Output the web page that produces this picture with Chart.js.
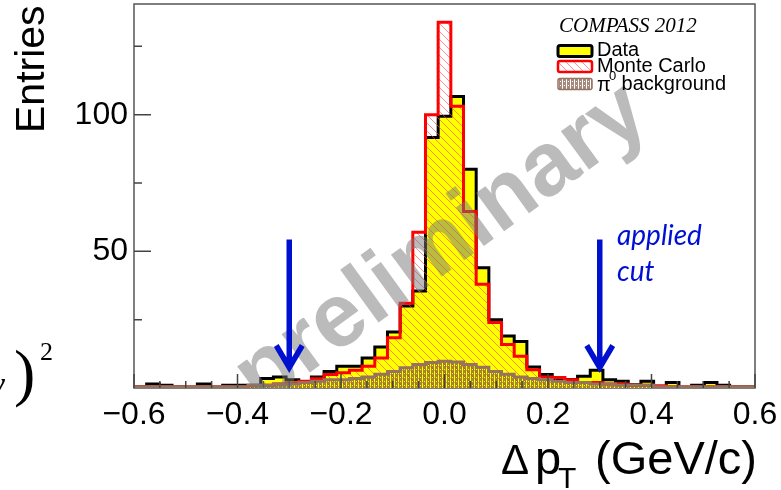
<!DOCTYPE html>
<html>
<head>
<meta charset="utf-8">
<script src="https://cdn.jsdelivr.net/npm/chart.js@4.4.0/dist/chart.umd.min.js"></script>
<style>
  body { margin: 0; background: #fff; }
  #wrap { width: 781px; height: 490px; position: relative; }
</style>
</head>
<body>
<div id="wrap"><canvas id="dpt"></canvas></div>
<script>
// Histogram binning: 49 bins between -0.6 and 0.6 GeV/c
const xMin = -0.6
const xMax = 0.6
const nBins = 49

// Entries per bin
const dataCounts = [
  0.5, 1.5, 1, 0.5, 0, 1.5, 0, 1, 1, 1,
  3.5, 4, 3, 2.4, 4, 6, 8, 8, 11, 15,
  20.5, 30, 35.5, 91.7, 99.4, 106.7, 80, 44, 25, 19,
  17, 7.7, 4.9, 3.1, 3.1, 4.3, 6.5, 3, 2.5, 1.2,
  2.5, 0.5, 2, 0, 1, 2, 1, 0.5, 0.5
]
const mcCounts = [
  0.5, 0.5, 0.5, 0.5, 0.5, 0.5, 0.5, 0.5, 0.5, 0.8,
  1, 1.5, 1.8, 2.5, 3.4, 4.9, 5.6, 6.5, 8, 11,
  18.4, 31, 57, 100, 133.8, 103.1, 64.6, 38, 24, 15.9,
  11.6, 6.7, 4, 3.8, 3, 2, 2, 1.5, 1.5, 1,
  1, 0.8, 0.5, 0.5, 0.5, 0.5, 0.5, 0.5, 0.5
]
const pi0Counts = [
  0.5, 0.5, 0.5, 0.5, 0.5, 0.5, 0.5, 0.5, 0.5, 1,
  1, 1.5, 1.5, 2, 2.5, 3, 3, 3.5, 4, 5,
  6, 7.4, 8.6, 9.3, 9.8, 9.5, 8.6, 7.6, 6, 5,
  4, 3.5, 3, 2.5, 2, 2, 1.5, 1.5, 1, 1,
  1, 0.5, 0.5, 0.5, 0.5, 0.5, 0.5, 0.5, 0.5
]

// Axes
const xTicks = [-0.6, -0.4, -0.2, 0, 0.2, 0.4, 0.6]
const xTickLabels = ['\u22120.6', '\u22120.4', '\u22120.2', '0.0', '0.2', '0.4', '0.6']
const yTicks = [50, 100]
const yTickLabels = ['50', '100']
const yMax = 140.5

// Cut markers
const cutValues = [-0.3, 0.3]
const arrowFrom = 54.3
const arrowTo = 6.4

// Patterns
const makePattern = draw => {
  const c = document.createElement('canvas')
  c.width = 8
  c.height = 8
  draw(c.getContext('2d'))
  return c.getContext('2d').createPattern(c, 'repeat')
}

const mcHatch = makePattern(g => {
  g.strokeStyle = 'rgba(255,70,70,0.6)'
  g.lineWidth = 1
  g.beginPath()
  g.moveTo(0, 0); g.lineTo(8, 8)
  g.moveTo(-1, 7); g.lineTo(1, 9)
  g.moveTo(7, -1); g.lineTo(9, 1)
  g.stroke()
})

const pi0Dots = makePattern(g => {
  g.fillStyle = 'rgba(120,80,60,0.68)'
  g.fillRect(0, 0, 8, 8)
  g.clearRect(2, 0, 1, 8)
  g.clearRect(6, 0, 1, 8)
  g.clearRect(0, 1, 1, 1)
  g.clearRect(4, 1, 1, 1)
  g.clearRect(0, 5, 1, 1)
  g.clearRect(4, 5, 1, 1)
})

const binWidth = (xMax - xMin) / nBins
const toSteps = counts => {
  const pts = [{ x: xMin, y: 0 }]
  counts.forEach((c, i) => pts.push({ x: xMin + i * binWidth, y: c }))
  pts.push({ x: xMax, y: counts[counts.length - 1] })
  pts.push({ x: xMax, y: 0 })
  return pts
}

const sans = 'Liberation Sans'
Chart.defaults.font.family = sans

// Frame, inner ticks, watermark, arrows, legend and titles
const decorations = {
  id: 'decorations',
  beforeDatasetsDraw(chart) {
    const { ctx, chartArea: a } = chart
    ctx.save()
    ctx.strokeStyle = '#555'
    ctx.lineWidth = 1.5
    ctx.strokeRect(a.left, a.top, a.right - a.left, a.bottom - a.top)
    ctx.restore()
  },
  afterDatasetsDraw(chart) {
    const { ctx, chartArea: a, scales: { x, y } } = chart
    ctx.save()

    // ticks pointing inwards
    ctx.strokeStyle = '#444'
    ctx.lineWidth = 1.5
    ctx.beginPath()
    for (let i = 0; i <= 24; i++) {
      const v = xMin + i * 0.05
      const px = x.getPixelForValue(v)
      const len = i % 4 === 0 ? 14 : 7
      ctx.moveTo(px, a.bottom)
      ctx.lineTo(px, a.bottom - len)
    }
    for (let v = 25; v < yMax; v += 25) {
      const py = y.getPixelForValue(v)
      const len = v % 50 === 0 ? 17 : 8
      ctx.moveTo(a.left, py)
      ctx.lineTo(a.left + len, py)
    }
    ctx.stroke()

    // watermark
    ctx.save()
    ctx.beginPath()
    ctx.rect(a.left, a.top, a.right - a.left, a.bottom - a.top)
    ctx.clip()
    ctx.translate(x.getPixelForValue(-0.005), y.getPixelForValue(52))
    ctx.rotate(-36 * Math.PI / 180)
    ctx.font = 'bold 90px ' + sans
    ctx.fillStyle = 'rgba(120,120,120,0.5)'
    ctx.textAlign = 'center'
    ctx.textBaseline = 'middle'
    ctx.fillText('preliminary', 0, 0)
    ctx.restore()

    // applied cut arrows
    ctx.strokeStyle = '#0010d0'
    ctx.lineWidth = 5.5
    ctx.lineJoin = 'miter'
    cutValues.forEach(v => {
      const px = x.getPixelForValue(v)
      const top = y.getPixelForValue(arrowFrom)
      const tip = y.getPixelForValue(arrowTo)
      ctx.beginPath()
      ctx.moveTo(px, top)
      ctx.lineTo(px, tip - 4)
      ctx.moveTo(px - 13, tip - 25)
      ctx.lineTo(px, tip - 3)
      ctx.lineTo(px + 13, tip - 25)
      ctx.stroke()
    })
    ctx.fillStyle = '#0010d0'
    ctx.font = 'italic 28px Lato'
    ctx.textAlign = 'left'
    ctx.textBaseline = 'alphabetic'
    ctx.fillText('applied', 617, 245)
    ctx.fillText('cut', 617, 281)

    // legend
    ctx.fillStyle = '#000'
    ctx.font = 'italic 21px "Liberation Serif"'
    ctx.textAlign = 'left'
    ctx.fillText('COMPASS 2012', 559, 32)

    const boxX = 558
    const boxW = 34
    const rows = [
      { y: 51, fill: '#ffff00', stroke: '#000', lw: 3 },
      { y: 66.5, fill: mcHatch, stroke: '#ff0000', lw: 2.5 },
      { y: 84, fill: pi0Dots, stroke: 'rgb(150,115,95)', lw: 1.5 }
    ]
    rows.forEach(r => {
      ctx.beginPath()
      ctx.roundRect(boxX, r.y - 5.5, boxW, 11, 2)
      ctx.fillStyle = '#fff'
      ctx.fill()
      ctx.fillStyle = r.fill
      ctx.fill()
      ctx.strokeStyle = r.stroke
      ctx.lineWidth = r.lw
      ctx.stroke()
    })
    ctx.fillStyle = '#000'
    ctx.font = '20px ' + sans
    ctx.textBaseline = 'middle'
    ctx.fillText('Data', 597, 50)
    ctx.fillText('Monte Carlo', 597, 66)
    ctx.fillText('\u03c0', 597, 85)
    ctx.font = '13px ' + sans
    ctx.fillText('0', 609, 76)
    ctx.font = '20px ' + sans
    ctx.fillText(' background', 616, 84)

    ctx.restore()
  },
  afterDraw(chart) {
    const { ctx } = chart
    ctx.save()
    ctx.fillStyle = '#000'
    ctx.textBaseline = 'alphabetic'

    // y title
    ctx.save()
    ctx.translate(44, 133)
    ctx.rotate(-Math.PI / 2)
    ctx.font = '41px ' + sans
    ctx.textAlign = 'left'
    ctx.fillText('Entries', 0, 0)
    ctx.restore()

    // x title
    ctx.font = '47px ' + sans
    ctx.textAlign = 'right'
    ctx.fillText('(GeV/c)', 757, 474)
    ctx.textAlign = 'left'
    ctx.font = '42px ' + sans
    ctx.fillText('\u0394', 501, 474)
    ctx.font = '47px ' + sans
    ctx.fillText('p', 535, 474)
    ctx.font = '30px ' + sans
    ctx.fillText('T', 558, 488)

    // fragment of the neighbouring formula
    ctx.font = 'italic 36px "Liberation Serif"'
    ctx.fillText('\u03b3', -10, 396)
    ctx.font = '64px "Liberation Serif"'
    ctx.fillText(')', 14, 394)
    ctx.font = '26px "Liberation Serif"'
    ctx.fillText('2', 40, 360)
    ctx.restore()
  }
}

new Chart(document.getElementById('dpt'), {
  type: 'line',
  data: {
    datasets: [
      {
        label: '\u03c0\u2070 background',
        data: toSteps(pi0Counts),
        stepped: true,
        fill: 'origin',
        backgroundColor: pi0Dots,
        borderColor: 'rgb(150,115,95)',
        borderWidth: 3,
        pointRadius: 0,
        order: 0
      },
      {
        label: 'Monte Carlo',
        data: toSteps(mcCounts),
        stepped: true,
        fill: 'origin',
        backgroundColor: mcHatch,
        borderColor: '#ff0000',
        borderWidth: 3,
        pointRadius: 0,
        order: 1
      },
      {
        label: 'Data',
        data: toSteps(dataCounts),
        stepped: true,
        fill: 'origin',
        backgroundColor: '#ffff00',
        borderColor: '#000',
        borderWidth: 3,
        pointRadius: 0,
        order: 2
      }
    ]
  },
  options: {
    responsive: true,
    maintainAspectRatio: false,
    animation: false,
    devicePixelRatio: 1,
    layout: { padding: { top: 4, right: 26, left: 0, bottom: 0 } },
    plugins: {
      legend: { display: false },
      tooltip: { enabled: false }
    },
    scales: {
      x: {
        type: 'linear',
        min: xMin,
        max: xMax,
        afterBuildTicks: s => { s.ticks = xTicks.map(v => ({ value: v })) },
        afterFit: s => {
          s.height = 102
          s.paddingLeft = 0
          s.paddingRight = 0
        },
        ticks: {
          autoSkip: false,
          maxRotation: 0,
          padding: 8,
          color: '#000',
          font: { size: 32 },
          callback: (v, i) => xTickLabels[i]
        },
        grid: { display: false, drawTicks: false },
        border: { display: false }
      },
      y: {
        min: 0,
        max: yMax,
        afterBuildTicks: s => { s.ticks = yTicks.map(v => ({ value: v })) },
        afterFit: s => {
          s.width = 134
          s.paddingTop = 0
          s.paddingBottom = 0
        },
        ticks: {
          padding: 6,
          color: '#000',
          font: { size: 32 },
          callback: (v, i) => yTickLabels[i]
        },
        grid: { display: false, drawTicks: false },
        border: { display: false }
      }
    }
  },
  plugins: [decorations]
})
</script>
</body>
</html>
